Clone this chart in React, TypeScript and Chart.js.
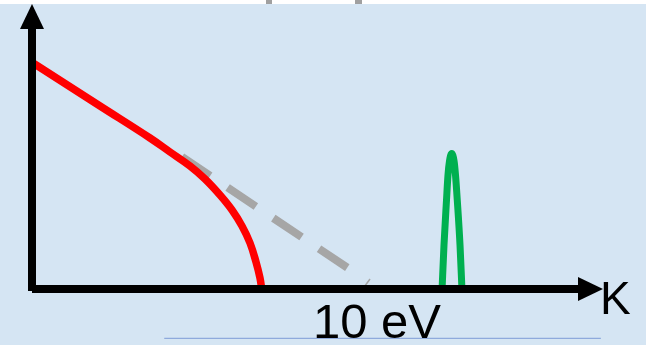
import React, { useEffect, useRef } from "react";
import { Chart, registerables } from "chart.js";

Chart.register(...registerables);

// Data (arbitrary units: x = kinetic energy K, y = intensity)
const redX = [0.18, 11.93, 20.7, 24.21, 27.72, 30.35, 32.98, 35.09, 36.84, 38.25, 39.3, 40.0, 40.35];
const redY = [79.58, 64.44, 53.17, 48.24, 43.31, 38.73, 33.1, 27.82, 22.18, 16.2, 9.51, 3.87, -0.7];

const dashX = [26.3, 55.4];
const dashY = [46.5, 7.4];

const greenX = [71.93, 72.28, 72.72, 72.98, 73.25, 73.63, 74.04, 74.3, 74.61, 75.09, 75.44];
const greenY = [-0.6, 15.5, 31.3, 40.1, 45.1, 47.7, 45.1, 40.1, 31.3, 15.5, -0.6];

const spanX = [23.2, 99.8];
const spanY = [-17.4, -17.4];

const tickX = [58.4, 59.3];
const tickY = [1.06, 3.5];

const spanLabel = "10 eV";
const axisLabel = "K";

const pts = (xs: number[], ys: number[]) => xs.map((x, i) => ({ x, y: ys[i] }));

const decorPlugin = {
  id: "decor",
  beforeDraw(chart: any) {
    const ctx = chart.ctx;
    ctx.save();
    ctx.fillStyle = "#D5E5F3";
    ctx.fillRect(0, 0, chart.width, chart.height);
    ctx.fillStyle = "#FFFFFF";
    ctx.fillRect(0, 0, chart.width, 4);
    ctx.fillStyle = "#A0A0A0";
    ctx.fillRect(266, 0, 6, 4);
    ctx.fillRect(355, 0, 7, 4);
    ctx.restore();
  },
  afterDatasetsDraw(chart: any) {
    const ctx = chart.ctx;
    const xs = chart.scales.x;
    const ys = chart.scales.y;
    const x0 = xs.getPixelForValue(0);
    const y0 = ys.getPixelForValue(0);
    const xEnd = xs.getPixelForValue(100);
    const yTop = ys.getPixelForValue(100);
    ctx.save();
    ctx.fillStyle = "#000000";
    // y axis
    ctx.fillRect(x0 - 4, yTop + 23, 8, y0 - yTop - 23 + 2);
    ctx.beginPath();
    ctx.moveTo(x0, yTop - 1);
    ctx.lineTo(x0 - 12, yTop + 24);
    ctx.lineTo(x0 + 12, yTop + 24);
    ctx.closePath();
    ctx.fill();
    // x axis
    ctx.fillRect(x0, y0 - 4, xEnd - x0 - 23, 8);
    ctx.beginPath();
    ctx.moveTo(xEnd + 1, y0);
    ctx.lineTo(xEnd - 24, y0 - 12);
    ctx.lineTo(xEnd - 24, y0 + 12);
    ctx.closePath();
    ctx.fill();
    ctx.restore();
  },
  afterDraw(chart: any) {
    const ctx = chart.ctx;
    const xs = chart.scales.x;
    const ys = chart.scales.y;
    ctx.save();
    ctx.fillStyle = "#000000";
    ctx.textBaseline = "alphabetic";
    ctx.textAlign = "center";
    ctx.font = '49px "Liberation Sans", Arial, sans-serif';
    ctx.fillText(spanLabel, 377, ys.getPixelForValue(spanY[0]));
    ctx.textAlign = "left";
    ctx.font = '46px "Liberation Sans", Arial, sans-serif';
    ctx.fillText(axisLabel, xs.getPixelForValue(100) - 2, ys.getPixelForValue(0) + 25);
    ctx.restore();
  },
};

export default function App() {
  const ref = useRef<HTMLCanvasElement>(null);
  useEffect(() => {
    if (!ref.current) return;
    const chart = new Chart(ref.current, {
      type: "line",
      data: {
        datasets: [
          {
            data: pts(spanX, spanY),
            borderColor: "#8FAADC",
            borderWidth: 1.2,
            clip: false as any,
            order: 5,
          },
          {
            data: pts(tickX, tickY),
            borderColor: "#A6A6A6",
            borderWidth: 1.5,
            clip: false as any,
            order: 4,
          },
          {
            data: pts(dashX, dashY),
            borderColor: "#A6A6A6",
            borderWidth: 8,
            borderDash: [34, 21],
            borderCapStyle: "butt",
            clip: false as any,
            order: 3,
          },
          {
            data: pts(redX, redY),
            borderColor: "#FF0000",
            borderWidth: 7.5,
            tension: 0.4,
            clip: false as any,
            order: 1,
          },
          {
            data: pts(greenX, greenY),
            borderColor: "#00B050",
            borderWidth: 7,
            cubicInterpolationMode: "monotone",
            borderJoinStyle: "round",
            clip: false as any,
            order: 2,
          },
        ],
      },
      options: {
        responsive: false,
        animation: false,
        layout: { padding: { left: 32, right: 44, top: 5, bottom: 56 } },
        elements: { point: { radius: 0, hoverRadius: 0 } },
        scales: {
          x: { type: "linear", min: 0, max: 100, display: false },
          y: { type: "linear", min: 0, max: 100, display: false },
        },
        plugins: { legend: { display: false }, tooltip: { enabled: false } },
        events: [],
      },
      plugins: [decorPlugin],
    });
    return () => chart.destroy();
  }, []);
  return (
    <div style={{ position: "absolute", left: 0, top: 0, width: 646, height: 345 }}>
      <canvas ref={ref} width={646} height={345} style={{ display: "block" }} />
    </div>
  );
}
